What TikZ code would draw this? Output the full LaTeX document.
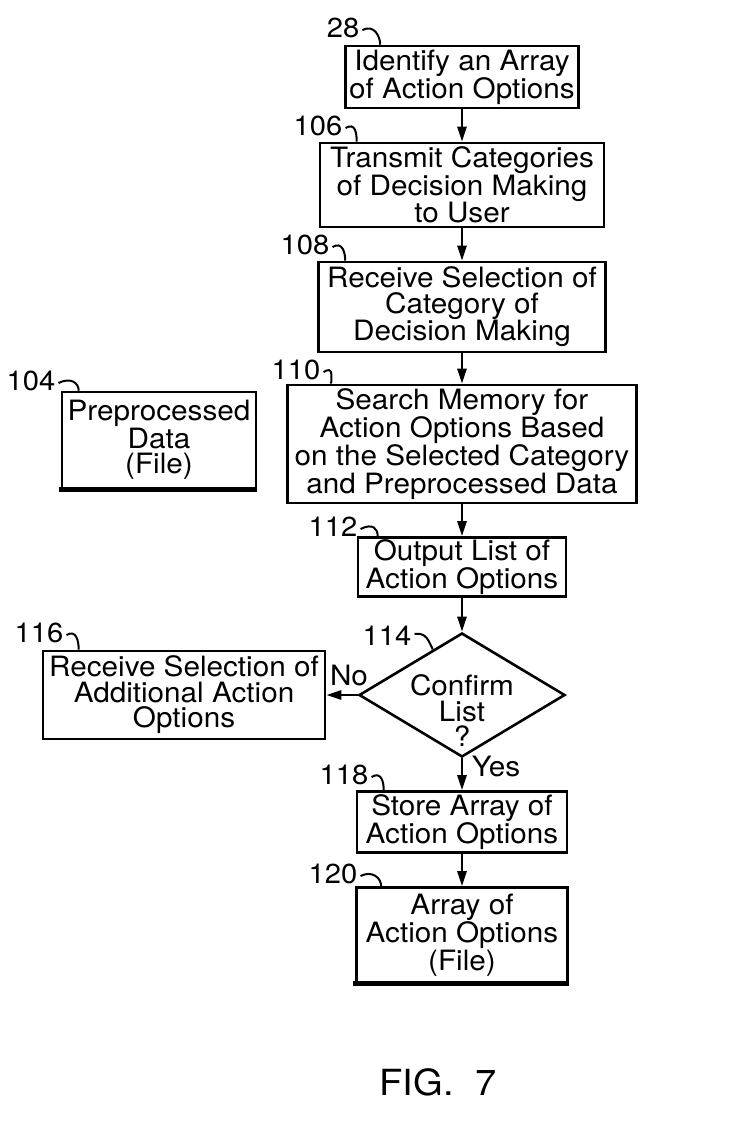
\documentclass[tikz,border=0pt]{standalone}
\usepackage{fontspec}
\setmainfont{TeX Gyre Heros}[FakeStretch=1.06]
\usetikzlibrary{positioning,arrows.meta,shapes.geometric,calc}
\tikzset{
  stepbox/.style={draw,line width=2.6pt,inner sep=0pt,align=center,
    font=\fontsize{28}{25.5}\selectfont},
  filebox/.style={stepbox},
  choice/.style={diamond,draw,line width=2.6pt,inner sep=0pt},
  flow/.style={line width=2.6pt,-{Triangle[length=15pt,width=9pt]}},
  refnum/.style={inner sep=0pt,font=\fontsize{27.5}{27.5}\selectfont},
  lead/.style={line width=2pt},
  answer/.style={inner sep=0pt,font=\fontsize{28}{28}\selectfont},
}
\begin{document}
\begin{tikzpicture}[x=1pt,y=-1pt]
\useasboundingbox (0,0) rectangle (733,1130);
% main column
\node[stepbox,minimum width=233pt,minimum height=62pt] (b28) at (462,77)
  {Identify an Array\\of Action Options};
\node[stepbox,minimum width=284pt,minimum height=84pt] (b106) at (462,185)
  {Transmit Categories\\of Decision Making\\to User};
\node[stepbox,minimum width=287pt,minimum height=90pt] (b108) at (462,307)
  {Receive Selection of\\Category of\\Decision Making};
\node[stepbox,minimum width=349pt,minimum height=118pt] (b110) at (462,444)
  {Search Memory for\\Action Options Based\\on the Selected Category\\and Preprocessed Data};
\node[filebox,minimum width=194pt,minimum height=96pt] (b104) at (159,440)
  {Preprocessed\\Data\\(File)};
\node[stepbox,minimum width=208pt,minimum height=59pt] (b112) at (462,567)
  {Output List of\\Action Options};
\node[choice,minimum width=206pt,minimum height=124pt] (d114) at (462,695) {};
\node[stepbox,draw=none,minimum width=0pt,minimum height=0pt] (t114) at (462,711)
  {Confirm\\List\\?};
\node[stepbox,minimum width=282pt,minimum height=88pt] (b116) at (184,695)
  {Receive Selection of\\Additional Action\\Options};
\node[stepbox,minimum width=210pt,minimum height=61pt] (b118) at (462,822)
  {Store Array of\\Action Options};
\node[filebox,minimum width=211pt,minimum height=95pt] (b120) at (462,935)
  {Array of\\Action Options\\(File)};
% file bottoms
\draw[line width=5pt] ($(b104.south west)+(-2,0)$) -- (b104.south east);
\draw[line width=5pt] ($(b120.south west)+(-2,0)$) -- (b120.south east);
% connectors
\draw[flow] (b28) -- (b106);
\draw[flow] (b106) -- (b108);
\draw[flow] (b108) -- (b110);
\draw[flow] (b110) -- (b112);
\draw[flow] (b112) -- (d114.north);
\draw[flow] (d114.west) -- (b116.east);
\draw[flow] (d114.south) -- (b118);
\draw[flow] (b118) -- (b120);
\node[answer] (no) at (349,675) {No};
\node[answer] (yes) at (496,766) {Yes};
% reference numerals
\node[refnum] (n28) at (343,28) {28};
\node[refnum] (n106) at (318,126) {106};
\node[refnum] (n108) at (305,245) {108};
\node[refnum] (n110) at (296,370) {110};
\node[refnum] (n104) at (31,381) {104};
\node[refnum] (n112) at (333,527) {112};
\node[refnum] (n114) at (387,636) {114};
\node[refnum] (n116) at (39,633) {116};
\node[refnum] (n118) at (344,775) {118};
\node[refnum] (n120) at (333,874) {120};
\draw[lead] ($(n28.east)+(3,2)$) .. controls +(12,-6) and +(0,-8) .. ($(b28.north west)+(36,0)$);
\draw[lead] ($(n106.east)+(3,2)$) .. controls +(10,-6) and +(0,-8) .. ($(b106.north west)+(38,0)$);
\draw[lead] ($(n108.east)+(3,2)$) .. controls +(10,-6) and +(0,-8) .. ($(b108.north west)+(28,0)$);
\draw[lead] ($(n110.east)+(3,2)$) .. controls +(10,-6) and +(0,-8) .. ($(b110.north west)+(45,0)$);
\draw[lead] ($(n104.east)+(3,2)$) .. controls +(12,-6) and +(0,-8) .. ($(b104.north west)+(18,0)$);
\draw[lead] ($(n112.east)+(3,2)$) .. controls +(12,-6) and +(0,-8) .. ($(b112.north west)+(21,0)$);
\draw[lead] ($(n114.east)+(3,-2)$) .. controls +(12,-2) and +(-4,-8) .. ($(d114.north)!0.28!(d114.west)$);
\draw[lead] ($(n116.east)+(3,2)$) .. controls +(10,-6) and +(0,-8) .. ($(b116.north west)+(37,0)$);
\draw[lead] ($(n118.east)+(3,2)$) .. controls +(10,-6) and +(0,-8) .. ($(b118.north west)+(28,0)$);
\draw[lead] ($(n120.east)+(3,2)$) .. controls +(12,-6) and +(0,-8) .. ($(b120.north west)+(26,0)$);
% caption
\node[inner sep=0pt,font=\fontsize{36}{36}\selectfont] (fig) at (438,1082) {FIG.\ \ 7};
\end{tikzpicture}
\end{document}
